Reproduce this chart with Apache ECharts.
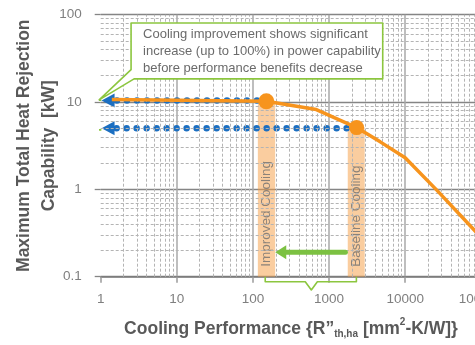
<!DOCTYPE html>
<html>
<head>
<meta charset="utf-8">
<script src="https://cdn.jsdelivr.net/npm/echarts@6/dist/echarts.min.js"></script>
<style>
  html, body { margin: 0; padding: 0; background: #fff; }
  #chart { width: 475px; height: 345px; }
</style>
</head>
<body>
<div id="chart"></div>
<script>
// Maximum heat rejection capability against cooling performance, log-log axes.

// Capability curve (x: R"th,ha in mm²-K/W, y: kW)
const curveX = [1.4, 150, 680, 2300, 4700, 10000, 26000, 100000];
const curveY = [10.7, 10.2, 8.2, 5.1, 3.5, 2.3, 0.98, 0.28];

// Operating points
const improvedPoint = [150, 10.2];
const baselinePoint = [2300, 5.1];

// Shaded bands around each operating point (x range)
const improvedBand = [116, 196];
const baselineBand = [1760, 2940];
const bandLabels = ['Improved Cooling', 'Baseline Cooling'];
const bandLabelY = 0.13;

// Dotted projections onto the capability axis
const upperProjection = { fromX: 113, toX: 1.25, y: 10.4 };
const lowerProjection = { fromX: 2300, toX: 1.25, y: 5.0 };

// Green arrow from baseline to improved cooling
const shiftArrow = { fromX: 1640, toX: 232, y: 0.191 };

// Brackets
const bottomBracketX = [145, 145, 487, 585, 702, 2286, 2286];
const bottomBracketY = [0.1, 0.0877, 0.0877, 0.0705, 0.0877, 0.0877, 0.1];
const leftBracketX = [1.02, 0.873, 0.873, 0.69, 0.873, 0.873, 1.02];
const leftBracketY = [10.5, 10.5, 8.1, 7.1, 6.2, 4.8, 4.8];

// Callout outline and text
const calloutX = [2.506, 5070, 5070, 2.743, 0.955, 2.506];
const calloutY = [80.4, 80.4, 18.4, 18.4, 10.6, 23.5];
const calloutText = [
  'Cooling improvement shows significant',
  'increase (up to 100%) in power capability',
  'before performance benefits decrease'
];

// Axis ranges and titles
const xRange = [1, 100000];
const yRange = [0.1, 100];
const xTitle = 'Cooling Performance {R”{s|th,ha} [mm{p|2}-K/W]}';
const yTitle = 'Maximum Total Heat Rejection\nCapability  [kW]';

const FONT = '"Liberation Sans", Arial, sans-serif';
const ORANGE = '#f7941d';
const BLUE = '#1c6fc1';
const GREEN = '#7cc142';
const LABEL_GREY = '#7f7f7f';
const TITLE_GREY = '#595959';

const zip = (xs, ys) => xs.map((x, i) => [x, ys[i]]);

// Minor (2..9 × decade) grid positions
function minorValues(lo, hi) {
  const out = [];
  for (let d = lo; d < hi; d *= 10) {
    for (let k = 2; k <= 9; k++) out.push(+(d * k).toPrecision(6));
  }
  return out;
}
const minorLines = minorValues(xRange[0], xRange[1]).map(v => ({ xAxis: v }))
  .concat(minorValues(yRange[0], yRange[1]).map(v => ({ yAxis: v })));

const fmt = v => String(+(+v).toPrecision(6));

function arrowLine(spec, color, width, dash, headSize, z) {
  return {
    type: 'line', z: z, silent: true, clip: false,
    symbol: 'none', showSymbol: true,
    lineStyle: { color: color, width: width, type: dash, cap: 'round' },
    itemStyle: { color: color },
    data: [
      [spec.fromX, spec.y],
      { value: [spec.toX, spec.y], symbol: 'triangle', symbolSize: headSize, symbolRotate: 90 }
    ]
  };
}

const chart = echarts.init(document.getElementById('chart'), null, { renderer: 'canvas' });

chart.setOption({
  animation: false,
  backgroundColor: '#fff',
  textStyle: { fontFamily: FONT },
  grid: { left: 100.7, right: -6.3, top: 14.7, bottom: 68.3, containLabel: false, outerBoundsMode: 'none' },
  xAxis: {
    type: 'log', logBase: 10, min: xRange[0], max: xRange[1],
    axisLine: { show: true, lineStyle: { color: '#7a7a7a', width: 1.5 } },
    axisTick: { show: true, length: 6, lineStyle: { color: '#9a9a9a', width: 1.5 } },
    axisLabel: { color: LABEL_GREY, fontSize: 13.5, fontFamily: FONT, margin: 16, formatter: fmt,
      showMinLabel: true, showMaxLabel: true, hideOverlap: false },
    splitLine: { show: true, showMinLine: false, lineStyle: { color: '#a8a8a8', width: 1.5 } },
    minorTick: { show: false },
    name: xTitle, nameLocation: 'middle', nameGap: 41, nameMoveOverlap: false,
    nameTextStyle: {
      color: TITLE_GREY, fontSize: 17.5, fontWeight: 'bold', fontFamily: FONT, lineHeight: 22,
      rich: {
        s: { fontSize: 10, fontWeight: 'bold', color: TITLE_GREY, fontFamily: FONT, lineHeight: 12, verticalAlign: 'bottom', padding: [8, 0, 0, 0] },
        p: { fontSize: 10, fontWeight: 'bold', color: TITLE_GREY, fontFamily: FONT, lineHeight: 12, verticalAlign: 'top' }
      }
    }
  },
  yAxis: {
    type: 'log', logBase: 10, min: yRange[0], max: yRange[1],
    axisLine: { show: false },
    axisTick: { show: true, length: 6, lineStyle: { color: '#858585', width: 1.3 } },
    axisLabel: { color: LABEL_GREY, fontSize: 13.5, fontFamily: FONT, margin: 19, formatter: fmt },
    splitLine: { show: true, lineStyle: { color: '#858585', width: 1.3 } },
    name: yTitle, nameLocation: 'middle', nameRotate: 90, nameGap: 39, nameMoveOverlap: false,
    nameTextStyle: { color: TITLE_GREY, fontSize: 17.5, fontWeight: 'bold', fontFamily: FONT, lineHeight: 25 }
  },
  series: [
    // minor grid
    {
      type: 'line', z: 0, silent: true, data: [],
      markLine: {
        silent: true, symbol: ['none', 'none'], label: { show: false },
        lineStyle: { color: '#b4b4b4', width: 1, type: [3, 2] },
        emphasis: { disabled: true },
        data: minorLines
      }
    },
    // bands
    {
      type: 'line', z: 1, silent: true, data: [],
      markArea: {
        silent: true,
        itemStyle: { color: 'rgba(246,160,70,0.52)' },
        label: { show: false },
        data: [
          [{ coord: [improvedBand[0], yRange[0]] }, { coord: [improvedBand[1], improvedPoint[1]] }],
          [{ coord: [baselineBand[0], yRange[0]] }, { coord: [baselineBand[1], baselinePoint[1]] }]
        ]
      }
    },
    // band labels
    {
      type: 'scatter', z: 3, silent: true, symbolSize: 0,
      data: [
        { value: [improvedPoint[0], bandLabelY], name: bandLabels[0] },
        { value: [baselinePoint[0], bandLabelY], name: bandLabels[1] }
      ],
      label: {
        show: true, position: 'inside', formatter: p => p.name, rotate: 90,
        align: 'left', verticalAlign: 'middle',
        color: '#6f6f6f', fontSize: 13.5, fontFamily: FONT
      }
    },
    // dotted projections
    arrowLine(upperProjection, BLUE, 6.5, [0, 10], [14, 13], 4),
    arrowLine(lowerProjection, BLUE, 6.5, [0, 10], [14, 13], 4),
    // capability curve
    {
      type: 'line', z: 5, silent: true, symbol: 'none',
      lineStyle: { color: ORANGE, width: 3.5, join: 'round' },
      data: zip(curveX, curveY)
    },
    // operating points
    {
      type: 'scatter', z: 6, silent: true,
      itemStyle: { color: ORANGE, opacity: 1 },
      data: [
        { value: improvedPoint, symbolSize: 16 },
        { value: baselinePoint, symbolSize: 15 }
      ]
    },
    // green shift arrow
    arrowLine(shiftArrow, GREEN, 5, 'solid', [14, 11], 6),
    // brackets
    {
      type: 'line', z: 6, silent: true, clip: false, symbol: 'none',
      lineStyle: { color: '#8cc63f', width: 1.6, join: 'round' },
      data: zip(bottomBracketX, bottomBracketY)
    },
    {
      type: 'line', z: 6, silent: true, clip: false, symbol: 'none',
      lineStyle: { color: '#8cc63f', width: 1.6, join: 'round' },
      data: zip(leftBracketX, leftBracketY)
    },
    // callout
    {
      type: 'custom', z: 7, silent: true, clip: false,
      data: [[calloutX[0], calloutY[0]]],
      renderItem: (params, api) => {
        const pts = calloutX.map((x, i) => api.coord([x, calloutY[i]]));
        const tl = pts[0];
        return {
          type: 'group',
          children: [
            { type: 'polygon', shape: { points: pts },
              style: { fill: '#fff', stroke: '#8cc63f', lineWidth: 1.6, lineJoin: 'round' } },
            { type: 'text', x: tl[0] + 12, y: tl[1] + 2.6,
              style: { text: calloutText.join('\n'), fill: '#6b6b6b', font: '13px ' + FONT,
                lineHeight: 17, align: 'left', verticalAlign: 'top' } }
          ]
        };
      }
    }
  ]
});
</script>
</body>
</html>
